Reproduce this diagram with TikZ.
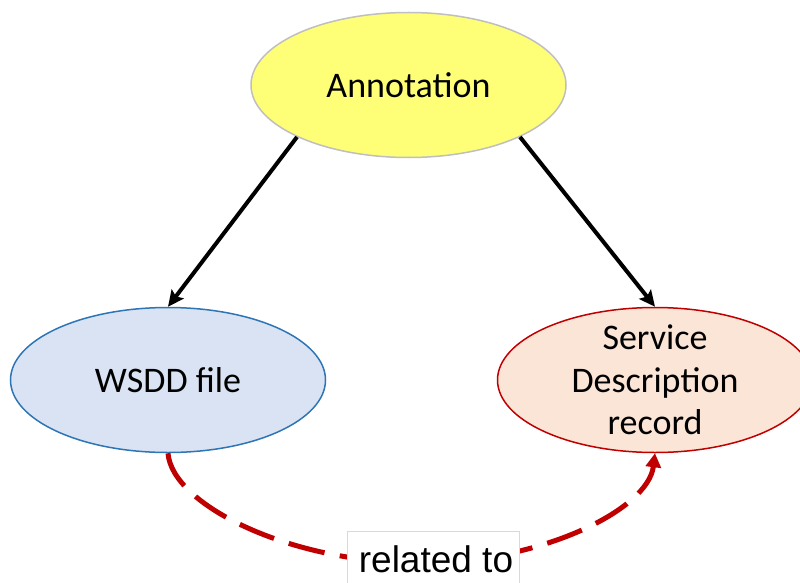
\documentclass[tikz,border=0pt]{standalone}
\usepackage{fontspec}
\setmainfont{Carlito}
\newfontfamily\labelfont{Liberation Sans}
\usetikzlibrary{arrows.meta,shapes.geometric}
\definecolor{annfill}{RGB}{255,255,119}
\definecolor{annline}{RGB}{191,191,191}
\definecolor{wsfill}{RGB}{218,227,243}
\definecolor{wsline}{RGB}{46,117,182}
\definecolor{sdfill}{RGB}{251,229,214}
\definecolor{sdline}{RGB}{192,0,0}
\definecolor{relred}{RGB}{192,0,0}
\definecolor{boxline}{RGB}{217,217,217}
\begin{document}
\begin{tikzpicture}[x=1pt,y=-1pt,
  blob/.style={ellipse, minimum width=315pt, minimum height=145pt, inner sep=0pt, line width=1.5pt},
  caption/.style={font=\fontsize{36}{42.5}\selectfont, align=center, inner sep=0pt},
  link/.style={line width=4pt, -{Stealth[length=16pt,width=15pt,inset=3pt]}},
  relation/.style={relred, line width=5pt, dash pattern=on 37pt off 15.5pt,
    -{Triangle[length=14pt,width=15pt]}},
]
\useasboundingbox (0,0) rectangle (800,583);
\clip (0,0) rectangle (800,583);

% the three concepts
\node[blob, draw=annline, fill=annfill] (ann) at (408.5,85) {};
\node[caption] (anntext) at (ann) {Annotation};
\node[blob, draw=wsline, fill=wsfill] (ws) at (168,380) {};
\node[caption] (wstext) at (ws) {WSDD file};
\node[blob, draw=sdline, fill=sdfill] (sd) at (655,380) {};
\node[caption] (sdtext) at (sd) {Service\\Description\\record};

% annotation points to both
\draw[link] (ann.205) -- (ws.north);
\draw[link] (ann.335) -- (sd.north);

% dashed relation between the two
\coordinate (low) at (420,563);
\draw[relation] (ws.south) .. controls (172,505) and (290,563) .. (low)
  .. controls (540,563) and (648,510) .. (sd.south);
\node[draw=boxline, fill=white, line width=1pt, minimum width=172pt,
  minimum height=70pt, anchor=north west, inner sep=0pt] (rel) at (347,531) {};
\node[font=\labelfont\fontsize{37}{44}\selectfont, anchor=base, inner sep=0pt]
  (reltext) at (436,572.3) {related to};
\end{tikzpicture}
\end{document}
